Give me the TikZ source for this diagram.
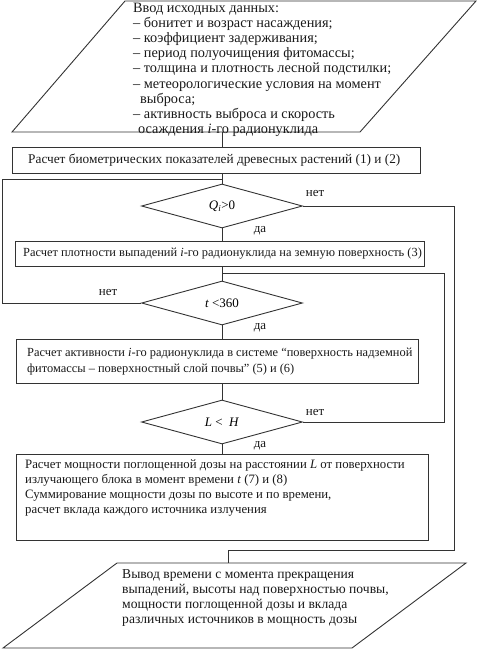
\documentclass[tikz,border=0pt]{standalone}
\usepackage{fontspec}
\setmainfont{Liberation Serif}
\usetikzlibrary{shapes.geometric}
\tikzset{
  ln/.style={draw=black!80, line width=0.9pt},
  boxnode/.style={ln, rectangle, inner sep=0pt, anchor=north west},
  txt/.style={anchor=north west, align=left, inner sep=0pt, text=black!90},
  dia/.style={ln, diamond, inner sep=0pt, aspect=3.6, minimum width=161pt, minimum height=44pt, font=\fontsize{13}{14}\selectfont},
  lbl/.style={inner sep=0pt, font=\fontsize{13}{14}\selectfont, text=black!90}
}
\begin{document}
\begin{tikzpicture}[x=1pt,y=-1pt]
\path[use as bounding box] (0,0) rectangle (477,649);
% input parallelogram
\coordinate (pa) at (125,1);
\coordinate (pb) at (476,1);
\coordinate (pc) at (360,132);
\coordinate (pd) at (12,132);
\draw[ln] (pa) -- (pb) -- (pc) -- (pd) -- cycle;
\coordinate (inS) at (222,132);
\node[txt, font=\fontsize{14.3}{15.1}\selectfont] (tin) at (133,3) {Ввод исходных данных:\\
– бонитет и возраст насаждения;\\
– коэффициент задерживания;\\
– период полуочищения фитомассы;\\
– толщина и плотность лесной подстилки;\\
– метеорологические условия на момент\\
\hspace*{7pt}выброса;\\
– активность выброса и скорость\\
\hspace*{5pt}осаждения \textit{i}-го радионуклида};
% box 1
\node[boxnode, minimum width=408pt, minimum height=26pt] (b1) at (12,147) {};
\node[txt, font=\fontsize{13.3}{15}\selectfont, anchor=west] (t1) at (28,160) {Расчет биометрических показателей древесных растений (1) и (2)};
% diamond 1
\node[dia] (d1) at (222,206) {\textit{Q}\textsubscript{\textit{i}}>0};
% box 2
\node[boxnode, minimum width=409pt, minimum height=25pt] (b2) at (15,241) {};
\node[txt, font=\fontsize{12.4}{14}\selectfont, anchor=west] (t2) at (23,253.5) {Расчет плотности выпадений \textit{i}-го радионуклида на земную поверхность (3)};
% diamond 2
\node[dia] (d2) at (222,303) {\textit{t} <360};
% box 3
\node[boxnode, minimum width=402pt, minimum height=44pt] (b3) at (16,339) {};
\node[txt, font=\fontsize{12.4}{16}\selectfont, anchor=west] (t3) at (27,361.5) {Расчет активности \textit{i}-го радионуклида в системе “поверхность надземной\\фитомассы – поверхностный слой почвы” (5) и (6)};
% diamond 3
\node[dia] (d3) at (222,422) {\textit{L} <~ \textit{H}};
% box 4
\node[boxnode, minimum width=412pt, minimum height=86pt] (b4) at (16,454) {};
\node[txt, font=\fontsize{12.8}{15}\selectfont] (t4) at (25,460) {Расчет мощности поглощенной дозы на расстоянии \textit{L} от поверхности\\
излучающего блока в момент времени \textit{t} (7) и (8)\\
Суммирование мощности дозы по высоте и по времени,\\
расчет вклада каждого источника излучения};
% output parallelogram
\coordinate (qa) at (117,563);
\coordinate (qb) at (466,563);
\coordinate (qc) at (352,648);
\coordinate (qd) at (3,648);
\draw[ln] (qa) -- (qb) -- (qc) -- (qd) -- cycle;
\coordinate (outN) at (228,563);
\node[txt, font=\fontsize{13.6}{15}\selectfont] (tout) at (122,569.5) {Вывод времени с момента прекращения\\
выпадений, высоты над поверхностью почвы,\\
мощности поглощенной дозы и вклада\\
различных источников в мощность дозы};
% labels
\node[lbl] (n1) at (315,193) {нет};
\node[lbl] (y1) at (260,231) {да};
\node[lbl] (n2) at (108,292) {нет};
\node[lbl] (y2) at (260,328) {да};
\node[lbl] (n3) at (315,412) {нет};
\node[lbl] (y3) at (260,446) {да};
% helper coordinates
\coordinate (jL) at (222,179);
\coordinate (lL) at (2,179);
\coordinate (rR) at (454,550);
\coordinate (rB) at (228,550);
\coordinate (jR) at (222,273);
\coordinate (rI) at (444,273);
% connectors
\draw[ln] (inS) -- (inS |- b1.north);
\draw[ln] (d1.north |- b1.south) -- (d1.north);
\draw[ln] (d2.west) -| (lL) -- (jL);
\draw[ln] (d1.east) -| (rR) -- (rB) -- (outN);
\draw[ln] (d1.south) -- (d1.south |- b2.north);
\draw[ln] (d2.north |- b2.south) -- (d2.north);
\draw[ln] (d3.east) -| (rI) -- (jR);
\draw[ln] (d2.south) -- (d2.south |- b3.north);
\draw[ln] (d3.north |- b3.south) -- (d3.north);
\draw[ln] (d3.south) -- (d3.south |- b4.north);
\end{tikzpicture}
\end{document}
